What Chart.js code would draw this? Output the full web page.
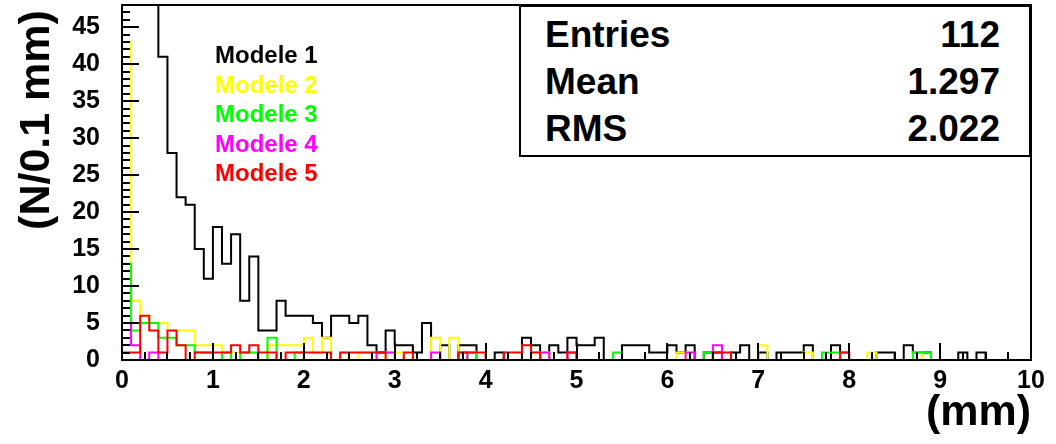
<!DOCTYPE html>
<html lang="en">
<head>
  <meta charset="UTF-8">
  <title>Modele 1-5 (N/0.1 mm)</title>

  <!-- Chart.js -->
  <script src="https://cdn.jsdelivr.net/npm/chart.js"></script>

  <style>
    body {
      margin: 0;
      background: #ffffff;
      font-family: "Liberation Sans", Arial, sans-serif;
    }

    .wrap {
      position: relative;
      width: 1056px;
      height: 444px;
    }

    canvas {
      position: absolute;
      left: 0;
      top: 0;
    }

    .stats {
      position: absolute;
      left: 519px;
      top: 5px;
      width: 512px;
      height: 152px;
      border: 2px solid #000;
      background: #fff;
      padding: 4px 29px 0 24px;
      box-sizing: border-box;
      font-weight: bold;
      font-size: 37px;
      color: #000;
    }

    .stats .row {
      display: flex;
      justify-content: space-between;
      line-height: 47px;
    }

    .legend {
      position: absolute;
      left: 215px;
      top: 40px;
      font-weight: bold;
      font-size: 24px;
      line-height: 29.5px;
    }

    .ytitle {
      position: absolute;
      left: -96px;
      top: 95px;
      width: 260px;
      height: 50px;
      line-height: 50px;
      text-align: center;
      font-weight: bold;
      font-size: 43px;
      transform: rotate(-90deg);
    }

    .xtitle {
      position: absolute;
      right: 25px;
      top: 385px;
      line-height: 50px;
      font-weight: bold;
      font-size: 43px;
    }
  </style>
</head>

<body>
  <div class="wrap">
    <canvas id="histo" width="1056" height="444"></canvas>

    <div class="legend">
      <div style="color:#000000">Modele 1</div>
      <div style="color:#ffff00">Modele 2</div>
      <div style="color:#00ff00">Modele 3</div>
      <div style="color:#ff00ff">Modele 4</div>
      <div style="color:#ff0000">Modele 5</div>
    </div>

    <div class="stats">
      <div class="row"><span>Entries</span><span>112</span></div>
      <div class="row"><span>Mean</span><span>1.297</span></div>
      <div class="row"><span>RMS</span><span>2.022</span></div>
    </div>

    <div class="ytitle">(N/0.1 mm)</div>
    <div class="xtitle">(mm)</div>
  </div>

  <script>
    // axis range and tick labels
    const xMin = 0;
    const xMax = 10;
    const yMax = 48;
    const xTickLabels = [0, 1, 2, 3, 4, 5, 6, 7, 8, 9, 10];
    const yTickLabels = [0, 5, 10, 15, 20, 25, 30, 35, 40, 45];

    // contents of the 100 bins (0.1 mm each)
    const modele1 = [
      95, 80, 66, 52, 41, 28, 22, 21, 15, 11,
      18, 13, 17, 8, 14, 4, 4, 8, 6, 6,
      6, 5, 3, 6, 6, 5, 6, 2, 1, 4,
      2, 2, 1, 5, 0, 2, 0, 2, 2, 0,
      0, 1, 0, 0, 3, 2, 0, 2, 1, 3,
      2, 2, 3, 0, 0, 2, 2, 2, 1, 1,
      2, 1, 2, 0, 1, 1, 0, 1, 2, 0,
      1, 0, 1, 1, 1, 2, 0, 0, 2, 0,
      0, 0, 0, 1, 1, 0, 2, 1, 1, 0,
      0, 0, 1, 0, 1, 0, 0, 0, 0, 0
    ];
    const modele2 = [
      43, 8, 6, 5, 5, 4, 4, 4, 2, 2,
      2, 1, 1, 1, 1, 0, 2, 2, 2, 2,
      3, 1, 3, 0, 1, 0, 1, 1, 0, 1,
      1, 0, 0, 0, 3, 0, 3, 1, 1, 0,
      0, 0, 0, 0, 0, 1, 1, 0, 0, 0,
      0, 0, 0, 0, 0, 0, 0, 0, 0, 0,
      0, 1, 0, 0, 0, 0, 0, 0, 0, 0,
      2, 0, 0, 0, 0, 1, 0, 0, 0, 0,
      0, 0, 1, 0, 0, 0, 0, 1, 0, 0,
      0, 0, 0, 0, 0, 0, 0, 0, 0, 0
    ];
    const modele3 = [
      13, 4, 5, 5, 3, 3, 2, 2, 1, 1,
      0, 1, 0, 1, 1, 0, 3, 0, 0, 1,
      0, 0, 0, 0, 0, 0, 0, 0, 0, 0,
      0, 0, 0, 0, 0, 0, 0, 0, 1, 0,
      0, 0, 0, 0, 0, 0, 0, 0, 0, 0,
      0, 0, 0, 0, 1, 0, 0, 0, 0, 0,
      0, 0, 0, 0, 1, 0, 0, 0, 0, 0,
      0, 0, 0, 0, 0, 0, 0, 1, 1, 0,
      0, 0, 0, 0, 0, 0, 0, 1, 1, 0,
      0, 0, 0, 0, 0, 0, 0, 0, 0, 0
    ];
    const modele4 = [
      5, 2, 0, 1, 0, 0, 0, 0, 0, 0,
      0, 0, 0, 0, 0, 0, 0, 0, 0, 0,
      0, 0, 0, 0, 0, 0, 0, 0, 1, 1,
      0, 0, 0, 0, 1, 0, 0, 1, 0, 0,
      0, 0, 0, 0, 0, 0, 1, 0, 0, 1,
      0, 0, 0, 0, 0, 0, 0, 0, 0, 0,
      0, 0, 1, 0, 0, 2, 0, 0, 0, 0,
      0, 0, 0, 0, 0, 0, 0, 0, 0, 1,
      0, 0, 0, 0, 0, 0, 0, 0, 0, 0,
      0, 0, 0, 0, 0, 0, 0, 0, 0, 0
    ];
    const modele5 = [
      1, 1, 6, 4, 1, 4, 2, 0, 1, 1,
      1, 1, 2, 1, 2, 1, 1, 0, 1, 1,
      1, 1, 1, 0, 1, 1, 1, 1, 1, 0,
      0, 1, 0, 0, 0, 0, 0, 1, 1, 1,
      0, 0, 1, 1, 2, 1, 0, 0, 0, 1,
      0, 0, 0, 0, 0, 0, 0, 0, 0, 0,
      0, 0, 0, 0, 0, 1, 1, 0, 0, 0,
      0, 0, 0, 0, 0, 0, 0, 0, 0, 1,
      0, 0, 0, 0, 0, 0, 0, 0, 0, 0,
      0, 0, 0, 0, 0, 0, 0, 0, 0, 0
    ];

    // turn bin contents into a closed step outline (ROOT style)
    function histPoints(values) {
      const binWidth = (xMax - xMin) / values.length;
      const pts = [{ x: xMin, y: 0 }];
      values.forEach((v, i) => pts.push({ x: xMin + i * binWidth, y: v }));
      pts.push({ x: xMax, y: values[values.length - 1] });
      pts.push({ x: xMax, y: 0 });
      return pts;
    }

    function histDataset(label, values, color, order) {
      return {
        label: label,
        data: histPoints(values),
        stepped: 'before',
        borderColor: color,
        borderWidth: 2,
        pointRadius: 0,
        fill: false,
        clip: 1,
        order: order
      };
    }

    // frame + inside ticks, drawn over the histograms like ROOT does
    const rootFrame = {
      id: 'rootFrame',
      afterDatasetsDraw(chart) {
        const { ctx, chartArea: a, scales: { x, y } } = chart;
        ctx.save();
        ctx.strokeStyle = '#000';
        ctx.lineWidth = 2;
        ctx.beginPath();
        for (let v = 0; v <= yMax; v++) {
          const py = Math.round(y.getPixelForValue(v));
          const len = v % 5 === 0 ? 17 : 8;
          ctx.moveTo(a.left, py);
          ctx.lineTo(a.left + len, py);
        }
        for (let i = 0; i <= 40; i++) {
          const px = Math.round(x.getPixelForValue(xMin + i * 0.25));
          const len = i % 4 === 0 ? 17 : 8;
          ctx.moveTo(px, a.bottom);
          ctx.lineTo(px, a.bottom - len);
        }
        ctx.stroke();
        ctx.strokeRect(a.left, a.top, a.right - a.left, a.bottom - a.top);
        ctx.restore();
      }
    };

    const tickFont = { family: '"Liberation Sans", Arial, sans-serif', size: 25, weight: 'bold' };

    new Chart(document.getElementById('histo').getContext('2d'), {
      type: 'line',
      data: {
        datasets: [
          histDataset('Modele 1', modele1, '#000000', 5),
          histDataset('Modele 2', modele2, '#ffff00', 4),
          histDataset('Modele 3', modele3, '#00ff00', 3),
          histDataset('Modele 4', modele4, '#ff00ff', 2),
          histDataset('Modele 5', modele5, '#ff0000', 1)
        ]
      },
      options: {
        responsive: false,
        animation: false,
        layout: { padding: { top: 5, right: 25, left: 0, bottom: 0 } },
        plugins: {
          legend: { display: false },
          tooltip: { enabled: false }
        },
        scales: {
          x: {
            type: 'linear',
            min: xMin,
            max: xMax,
            afterBuildTicks: s => { s.ticks = xTickLabels.map(v => ({ value: v })); },
            afterFit: s => { s.height = 84; s.paddingLeft = 0; s.paddingRight = 0; },
            grid: { display: false, drawTicks: false },
            border: { display: false },
            ticks: { color: '#000', font: tickFont, padding: 6, maxRotation: 0, autoSkip: false }
          },
          y: {
            type: 'linear',
            min: 0,
            max: yMax,
            afterBuildTicks: s => { s.ticks = yTickLabels.map(v => ({ value: v })); },
            afterFit: s => { s.width = 122; s.paddingTop = 0; s.paddingBottom = 0; },
            grid: { display: false, drawTicks: false },
            border: { display: false },
            ticks: { color: '#000', font: tickFont, padding: 22, autoSkip: false }
          }
        }
      },
      plugins: [rootFrame]
    });
  </script>
</body>
</html>
